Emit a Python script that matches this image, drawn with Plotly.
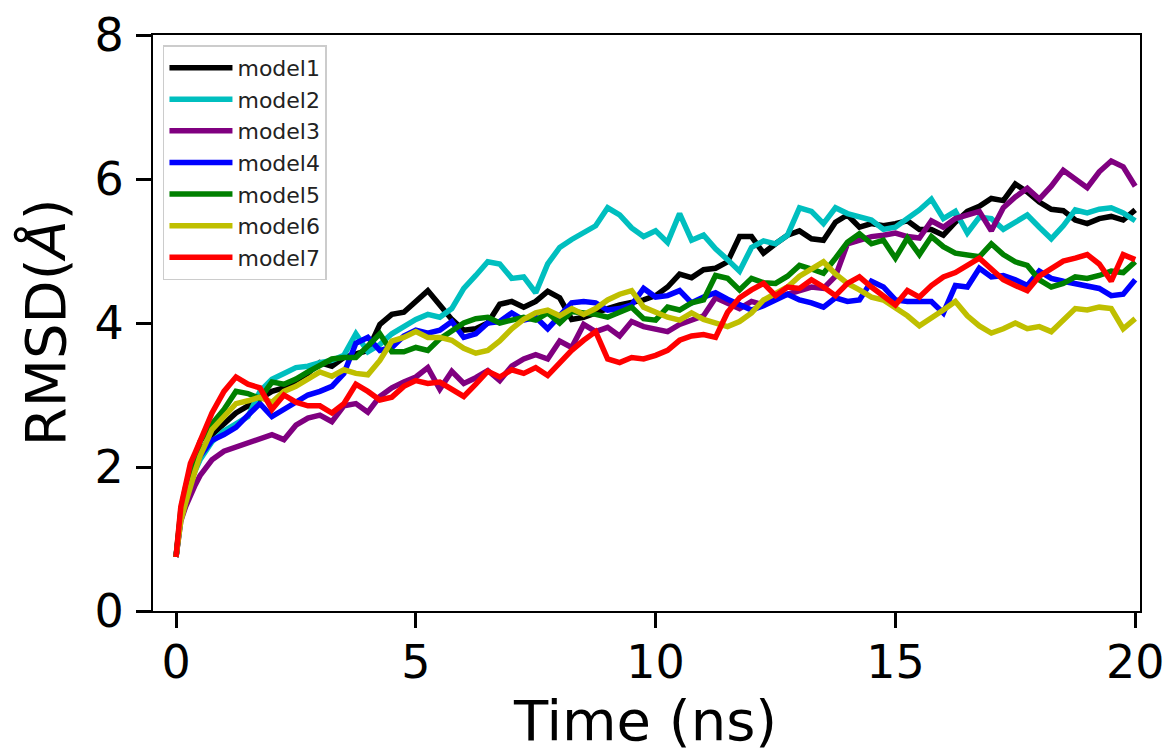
import plotly.graph_objects as go

time_ns = [0, 0.05, 0.1, 0.2, 0.3, 0.4, 0.5, 0.75, 1.0,
           1.25, 1.5, 1.75, 2.0, 2.25, 2.5, 2.75, 3.0, 3.25, 3.5, 3.75, 4.0,
           4.25, 4.5, 4.75, 5.0, 5.25, 5.5, 5.75, 6.0, 6.25, 6.5, 6.75, 7.0,
           7.25, 7.5, 7.75, 8.0, 8.25, 8.5, 8.75, 9.0, 9.25, 9.5, 9.75, 10.0,
           10.25, 10.5, 10.75, 11.0, 11.25, 11.5, 11.75, 12.0, 12.25, 12.5, 12.75, 13.0,
           13.25, 13.5, 13.75, 14.0, 14.25, 14.5, 14.75, 15.0, 15.25, 15.5, 15.75, 16.0,
           16.25, 16.5, 16.75, 17.0, 17.25, 17.5, 17.75, 18.0, 18.25, 18.5, 18.75, 19.0,
           19.25, 19.5, 19.75, 20.0]

model1 = [0.75, 1.1, 1.35, 1.65, 1.9, 2.05, 2.2, 2.45, 2.6,
          2.75, 2.85, 2.95, 3.05, 3.1, 3.2, 3.3, 3.45, 3.4, 3.52, 3.58, 3.62,
          3.98, 4.12, 4.15, 4.3, 4.45, 4.25, 4.05, 3.9, 3.92, 4.0, 4.26, 4.3,
          4.22, 4.3, 4.44, 4.35, 4.05, 4.08, 4.15, 4.2, 4.25, 4.28, 4.32, 4.38,
          4.5, 4.68, 4.63, 4.74, 4.76, 4.85, 5.2, 5.2, 4.97, 5.1, 5.22, 5.28,
          5.17, 5.15, 5.4, 5.5, 5.33, 5.38, 5.35, 5.38, 5.42, 5.3, 5.3, 5.22,
          5.4, 5.55, 5.62, 5.73, 5.7, 5.93, 5.82, 5.68, 5.58, 5.56, 5.43, 5.38,
          5.45, 5.48, 5.43, 5.57]

model2 = [0.75, 1.1, 1.3, 1.6, 1.82, 1.95, 2.1, 2.35, 2.5,
          2.6, 2.7, 3.05, 3.22, 3.3, 3.38, 3.4, 3.45, 3.48, 3.55, 3.85, 3.6,
          3.7, 3.85, 3.95, 4.05, 4.12, 4.08, 4.2, 4.48, 4.66, 4.85, 4.82, 4.62,
          4.64, 4.42, 4.82, 5.05, 5.16, 5.25, 5.35, 5.6, 5.5, 5.32, 5.2, 5.28,
          5.12, 5.52, 5.15, 5.22, 5.03, 4.88, 4.72, 5.05, 5.14, 5.1, 5.22, 5.6,
          5.55, 5.38, 5.6, 5.52, 5.47, 5.43, 5.3, 5.33, 5.45, 5.57, 5.72, 5.45,
          5.55, 5.25, 5.47, 5.45, 5.3, 5.4, 5.5, 5.33, 5.17, 5.35, 5.57, 5.53,
          5.58, 5.6, 5.53, 5.42]

model3 = [0.75, 1.05, 1.25, 1.45, 1.62, 1.75, 1.88, 2.1, 2.22,
          2.28, 2.33, 2.4, 2.45, 2.38, 2.58, 2.68, 2.72, 2.63, 2.85, 2.88, 2.76,
          2.98, 3.1, 3.18, 3.25, 3.38, 3.08, 3.33, 3.16, 3.24, 3.34, 3.2, 3.4,
          3.5, 3.56, 3.5, 3.75, 3.66, 3.98, 3.88, 3.94, 3.82, 4.02, 3.95, 3.92,
          3.88, 3.98, 4.05, 4.1, 4.35, 4.28, 4.2, 4.3, 4.25, 4.35, 4.4, 4.45,
          4.5, 4.48, 4.65, 5.1, 5.15, 5.2, 5.22, 5.25, 5.2, 5.18, 5.42, 5.33,
          5.45, 5.5, 5.55, 5.28, 5.6, 5.75, 5.87, 5.72, 5.9, 6.12, 6.0, 5.88,
          6.1, 6.25, 6.17, 5.9]

model4 = [0.75, 1.1, 1.3, 1.55, 1.8, 1.98, 2.15, 2.37, 2.45,
          2.55, 2.72, 2.88, 2.7, 2.8, 2.9, 3.0, 3.05, 3.12, 3.3, 3.72, 3.8,
          3.62, 3.66, 3.82, 3.9, 3.86, 3.9, 4.02, 3.8, 3.85, 4.0, 4.02, 4.14,
          4.04, 4.08, 3.92, 4.1, 4.28, 4.3, 4.28, 4.18, 4.2, 4.25, 4.48, 4.36,
          4.38, 4.45, 4.28, 4.36, 4.42, 4.33, 4.25, 4.18, 4.24, 4.32, 4.4, 4.32,
          4.28, 4.22, 4.35, 4.3, 4.32, 4.58, 4.5, 4.32, 4.3, 4.3, 4.3, 4.14,
          4.52, 4.5, 4.76, 4.64, 4.66, 4.6, 4.52, 4.72, 4.62, 4.58, 4.55, 4.52,
          4.48, 4.38, 4.4, 4.6]

model5 = [0.75, 1.15, 1.4, 1.72, 1.98, 2.15, 2.35, 2.6, 2.8,
          3.05, 3.02, 2.95, 3.18, 3.15, 3.22, 3.32, 3.4, 3.5, 3.52, 3.52, 3.68,
          3.85, 3.6, 3.6, 3.66, 3.62, 3.78, 3.9, 4.0, 4.06, 4.08, 4.0, 4.04,
          4.08, 4.04, 4.14, 4.0, 4.16, 4.14, 4.12, 4.08, 4.16, 4.22, 4.06, 4.04,
          4.22, 4.18, 4.28, 4.32, 4.66, 4.62, 4.46, 4.62, 4.56, 4.55, 4.65, 4.8,
          4.75, 4.69, 4.9, 5.12, 5.24, 5.1, 5.15, 4.9, 5.18, 4.95, 5.2, 5.06,
          4.97, 4.95, 4.92, 5.1, 4.95, 4.85, 4.8, 4.6, 4.5, 4.55, 4.64, 4.62,
          4.66, 4.72, 4.7, 4.85]

model6 = [0.75, 1.05, 1.25, 1.5, 1.75, 1.95, 2.15, 2.52, 2.7,
          2.88, 2.92, 2.97, 2.9, 3.05, 3.12, 3.22, 3.32, 3.26, 3.35, 3.3, 3.28,
          3.48, 3.75, 3.8, 3.88, 3.8, 3.8, 3.76, 3.65, 3.58, 3.62, 3.75, 3.92,
          4.05, 4.14, 4.18, 4.1, 4.2, 4.12, 4.2, 4.32, 4.4, 4.45, 4.22, 4.15,
          4.08, 4.04, 4.14, 4.05, 4.0, 3.95, 4.02, 4.14, 4.32, 4.42, 4.5, 4.65,
          4.76, 4.85, 4.68, 4.55, 4.46, 4.36, 4.32, 4.22, 4.1, 3.96, 4.06, 4.18,
          4.3, 4.1, 3.96, 3.86, 3.92, 4.0, 3.92, 3.95, 3.88, 4.05, 4.2, 4.18,
          4.22, 4.2, 3.92, 4.06]

model7 = [0.75, 1.15, 1.45, 1.75, 2.05, 2.2, 2.35, 2.75, 3.05,
          3.25, 3.15, 3.1, 2.8, 3.0, 2.9, 2.85, 2.85, 2.75, 2.88, 3.15, 3.05,
          2.93, 2.97, 3.12, 3.2, 3.16, 3.18, 3.07, 2.98, 3.15, 3.33, 3.25, 3.35,
          3.3, 3.38, 3.27, 3.44, 3.62, 3.76, 3.88, 3.5, 3.45, 3.52, 3.5, 3.55,
          3.62, 3.76, 3.82, 3.84, 3.8, 4.15, 4.35, 4.46, 4.55, 4.38, 4.5, 4.48,
          4.6, 4.5, 4.38, 4.55, 4.64, 4.5, 4.38, 4.25, 4.45, 4.36, 4.52, 4.64,
          4.7, 4.8, 4.9, 4.75, 4.6, 4.52, 4.45, 4.65, 4.76, 4.86, 4.9, 4.95,
          4.82, 4.58, 4.95, 4.88]

series_names = ["model1", "model2", "model3", "model4", "model5", "model6", "model7"]
series_values = [model1, model2, model3, model4, model5, model6, model7]
series_colors = ["#000000", "#00bfbf", "#800080", "#0000ff", "#008000", "#bfbf00", "#ff0000"]

x_ticks = [0, 5, 10, 15, 20]
y_ticks = [0, 2, 4, 6, 8]

FONT = "DejaVu Sans"

fig = go.Figure()
for name, vals, col in zip(series_names, series_values, series_colors):
    assert len(vals) == len(time_ns), name
    fig.add_trace(go.Scatter(x=time_ns, y=vals, mode="lines", name=name,
                             legendgroup=name,
                             line=dict(color=col, width=5.5)))

axis_common = dict(showgrid=False, zeroline=False, showline=True, linecolor="black",
                   linewidth=2, mirror=True, ticks="outside", ticklen=15, tickwidth=2.5,
                   tickcolor="black", automargin=False,
                   tickfont=dict(family=FONT, size=46, color="black"))

fig.update_xaxes(range=[-0.48, 20.1], tickvals=x_ticks, ticktext=[str(v) for v in x_ticks],
                 ticklabelstandoff=-5, **axis_common)
fig.update_yaxes(range=[0, 8], tickvals=y_ticks, ticktext=[str(v) for v in y_ticks],
                 ticklabelstandoff=3, **axis_common)

# page body has an 8px default margin, so the figure is drawn 8px smaller
fig.update_layout(
    width=1163, height=747,
    margin=dict(l=145, r=31, t=27, b=144),
    plot_bgcolor="white", paper_bgcolor="white",
    font=dict(family=FONT, color="black"),
    showlegend=True,
    legend=dict(x=0.0101, y=0.982, xanchor="left", yanchor="top",
                bgcolor="rgba(255,255,255,0.8)", bordercolor="#cccccc", borderwidth=1.5,
                font=dict(family=FONT, size=22, color="#222222"),
                tracegroupgap=0, itemwidth=63),
    annotations=[
        dict(text="Time (ns)", xref="paper", yref="paper", x=0.4985, y=-0.19,
             xanchor="center", yanchor="middle", showarrow=False,
             font=dict(family=FONT, size=56, color="black")),
        dict(text="RMSD(<i>Å</i>)", xref="paper", yref="paper", x=-0.109, y=0.502,
             xanchor="center", yanchor="middle", textangle=-90, showarrow=False,
             font=dict(family=FONT, size=56, color="black")),
    ],
)

fig.write_html("out.html")
